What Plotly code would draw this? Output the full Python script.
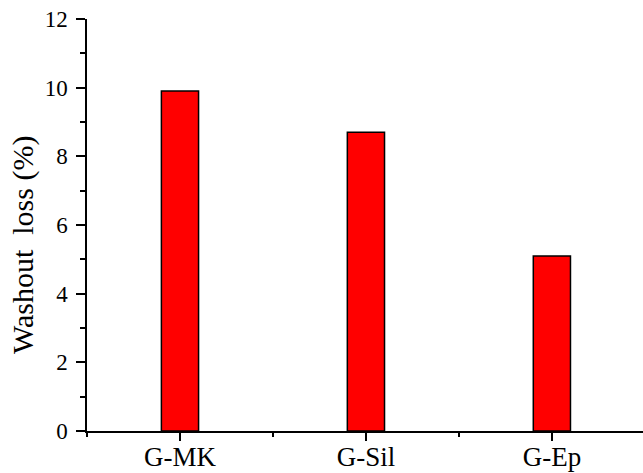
import plotly.graph_objects as go

# Washout loss of each grout mix
categories = ["G-MK", "G-Sil", "G-Ep"]
washout_loss = [9.9, 8.7, 5.1]

y_ticks = [0, 2, 4, 6, 8, 10, 12]
y_title = "Washout  loss (%)"

positions = list(range(len(categories)))
boundaries = [p - 0.5 for p in positions] + [positions[-1] + 0.5]

FONT = "Liberation Serif"

fig = go.Figure(
    go.Bar(
        x=positions,
        y=washout_loss,
        width=0.2,
        marker=dict(color="#ff0000", line=dict(color="black", width=1.5)),
    )
)

fig.update_layout(
    width=643,
    height=473,
    margin=dict(l=87, r=0, t=19, b=42),
    plot_bgcolor="white",
    paper_bgcolor="white",
    showlegend=False,
    font=dict(family=FONT, color="black"),
)

fig.update_xaxes(
    automargin=False,
    range=[-0.5, 2.49],
    tickmode="array",
    tickvals=positions,
    ticktext=categories,
    ticks="outside",
    ticklen=8,
    tickwidth=1.5,
    tickcolor="black",
    tickfont=dict(family=FONT, size=27, color="black"),
    ticklabelstandoff=-7,
    showline=True,
    linecolor="black",
    linewidth=1.5,
    showgrid=False,
    zeroline=False,
    minor=dict(tickmode="array", tickvals=boundaries, ticks="outside",
               ticklen=4, tickwidth=1.5, tickcolor="black", showgrid=False),
)

fig.update_yaxes(
    automargin=False,
    range=[0, 12],
    tickmode="array",
    tickvals=y_ticks,
    ticks="outside",
    ticklen=9,
    tickwidth=1.5,
    tickcolor="black",
    tickfont=dict(family=FONT, size=23, color="black"),
    ticklabelstandoff=4,
    showline=True,
    linecolor="black",
    linewidth=1.5,
    showgrid=False,
    zeroline=False,
    minor=dict(tickmode="linear", tick0=1, dtick=2, ticks="outside",
               ticklen=5, tickwidth=1.5, tickcolor="black", showgrid=False),
)

# Vertical axis title, placed to the left of the tick labels
fig.add_annotation(
    text=y_title,
    textangle=-90,
    xref="paper", yref="paper",
    x=-(87 - 23) / 556, y=(431 - 245) / 412,
    xanchor="center", yanchor="middle",
    showarrow=False,
    font=dict(family=FONT, size=30, color="black"),
)

fig.write_html("out.html")
